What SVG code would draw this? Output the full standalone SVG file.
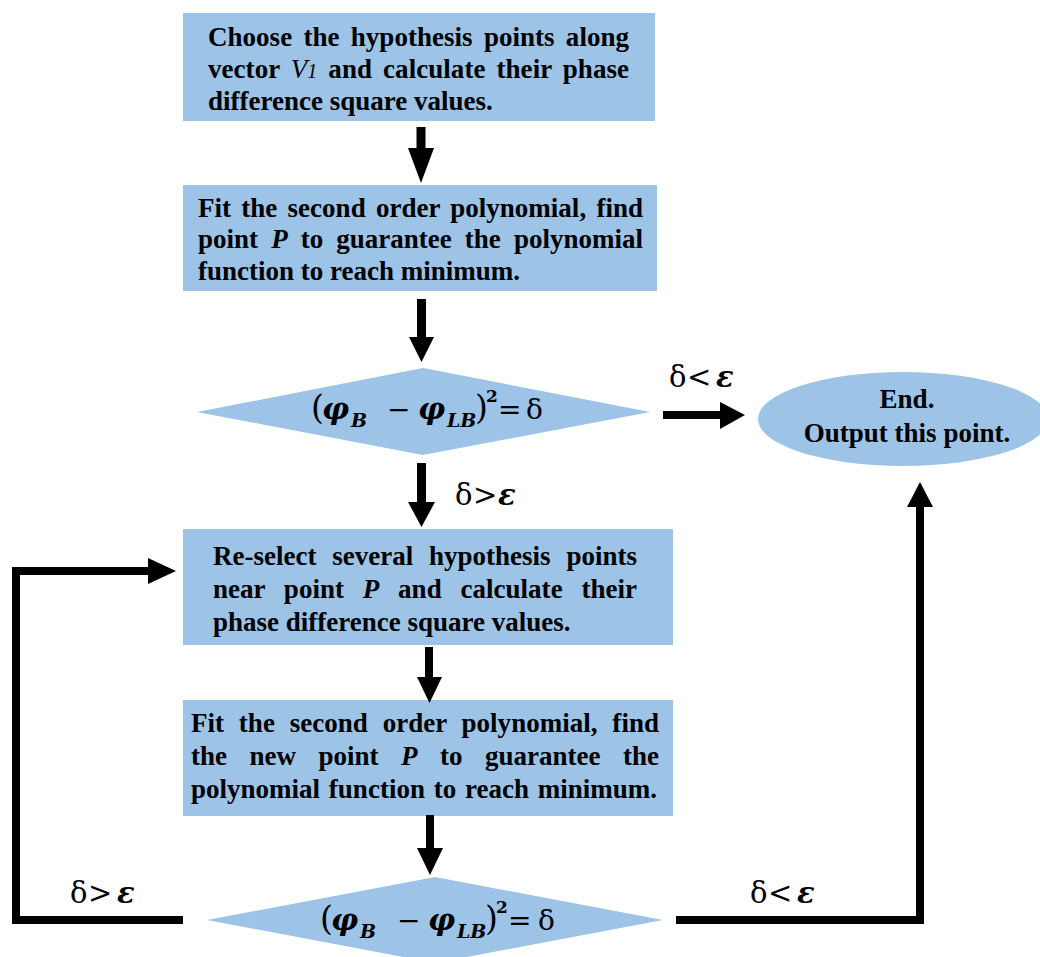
<svg xmlns="http://www.w3.org/2000/svg" width="1040" height="957" viewBox="0 0 1040 957">
<style>
.node{fill:#9DC3E6;}
.t{font-family:"Liberation Serif","Times New Roman",serif;font-weight:bold;font-size:27px;fill:#000;}
.it{font-style:italic;}
.v1{font-style:italic;font-weight:normal;}
.m{font-family:"DejaVu Serif","Liberation Serif",serif;font-size:28px;fill:#000;}
.phi{font-family:"DejaVu Serif",serif;font-weight:bold;font-style:italic;font-size:30px;}
.sub{font-family:"DejaVu Serif",serif;font-weight:bold;font-style:italic;font-size:19px;}
.sup{font-family:"DejaVu Serif",serif;font-weight:bold;font-size:17px;}
.lbl{font-family:"DejaVu Serif","Liberation Serif",serif;font-size:29px;fill:#000;}
.eps{font-weight:bold;font-style:italic;}
.arrow{fill:#000;}
.line{fill:none;stroke:#000;stroke-width:8;stroke-linejoin:miter;}
</style>
<rect width="1040" height="957" fill="#fff"/>

<g id="box1">
<rect class="node" x="183" y="13" width="472" height="108"/>
<text class="t" x="208" y="46" word-spacing="4.5" textLength="421" lengthAdjust="spacing">Choose the hypothesis points along</text>
<text class="t" x="208" y="78" word-spacing="4.2" textLength="421" lengthAdjust="spacing">vector <tspan class="v1">V</tspan><tspan class="v1" font-size="20">1</tspan> and calculate their phase</text>
<text class="t" x="208" y="110">difference square values.</text>
</g>

<g id="box2">
<rect class="node" x="183" y="185" width="474" height="106"/>
<text class="t" x="198" y="217" word-spacing="3.5" textLength="445" lengthAdjust="spacing">Fit the second order polynomial, find</text>
<text class="t" x="198" y="248" word-spacing="6.3" textLength="445" lengthAdjust="spacing">point <tspan class="it">P</tspan> to guarantee the polynomial</text>
<text class="t" x="198" y="280">function to reach minimum.</text>
</g>

<g id="decision1">
<polygon class="node" points="197,412 423,368 650,412 423,455"/>
<text class="m" y="419">
<tspan x="311" font-size="33">(</tspan><tspan class="phi" x="322">φ</tspan><tspan class="sub" x="351" dy="8">B</tspan><tspan x="387" dy="-8">−</tspan><tspan class="phi" x="418">φ</tspan><tspan class="sub" x="447" dy="8">LB</tspan><tspan x="475" dy="-8" font-size="33">)</tspan><tspan class="sup" x="486" dy="-17">2</tspan><tspan x="498" dy="17">=</tspan><tspan x="526">δ</tspan>
</text>
</g>

<g id="end">
<ellipse class="node" cx="903" cy="419" rx="145" ry="47"/>
<text class="t" x="907" y="408" text-anchor="middle">End.</text>
<text class="t" x="907" y="442" text-anchor="middle">Output this point.</text>
</g>

<g id="box3">
<rect class="node" x="183" y="529" width="490" height="116"/>
<text class="t" x="213" y="565" word-spacing="9" textLength="424" lengthAdjust="spacing">Re-select several hypothesis points</text>
<text class="t" x="213" y="598" word-spacing="12" textLength="424" lengthAdjust="spacing">near point <tspan class="it">P</tspan> and calculate their</text>
<text class="t" x="213" y="631">phase difference square values.</text>
</g>

<g id="box4">
<rect class="node" x="183" y="700" width="490" height="116"/>
<text class="t" x="191" y="732" word-spacing="8" textLength="468" lengthAdjust="spacing">Fit the second order polynomial, find</text>
<text class="t" x="191" y="765" word-spacing="15.7" textLength="468" lengthAdjust="spacing">the new point <tspan class="it">P</tspan> to guarantee the</text>
<text class="t" x="191" y="798" word-spacing="2" textLength="466" lengthAdjust="spacing">polynomial function to reach minimum.</text>
</g>

<g id="decision2">
<polygon class="node" points="207,920 435,877 663,920 435,963"/>
<text class="m" y="930">
<tspan x="320" font-size="33">(</tspan><tspan class="phi" x="331">φ</tspan><tspan class="sub" x="360" dy="8">B</tspan><tspan x="397" dy="-8">−</tspan><tspan class="phi" x="428">φ</tspan><tspan class="sub" x="457" dy="8">LB</tspan><tspan x="485" dy="-8" font-size="33">)</tspan><tspan class="sup" x="496" dy="-17">2</tspan><tspan x="508" dy="17">=</tspan><tspan x="538">δ</tspan>
</text>
</g>

<g id="connectors">
<polygon class="arrow" points="416.5,127 425.5,127 425.5,148 434,148 421,183 408,148 416.5,148"/>
<polygon class="arrow" points="417,299 426,299 426,337 434,337 421.5,362 409,337 417,337"/>
<polygon class="arrow" points="417,463 426,463 426,502 435,502 421.5,527 408,502 417,502"/>
<polygon class="arrow" points="425,647 433,647 433,677 442,677 429.5,703 417,677 425,677"/>
<polygon class="arrow" points="426,815 434,815 434,848 443,848 430,875 417,848 426,848"/>
<polygon class="arrow" points="663,411 720,411 720,402 745,415 720,429 720,419 663,419"/>
<polyline class="line" points="183,920 16,920 16,571 150,571"/>
<polygon class="arrow" points="148,558 176,571 148,584"/>
<polyline class="line" points="676,920 920,920 920,505"/>
<polygon class="arrow" points="907,507 920,482 933,507"/>
<text class="lbl" y="387"><tspan x="669">δ</tspan><tspan x="687">&lt;</tspan><tspan class="eps" x="716">ε</tspan></text>
<text class="lbl" y="505"><tspan x="455">δ</tspan><tspan x="473">&gt;</tspan><tspan class="eps" x="498">ε</tspan></text>
<text class="lbl" y="903"><tspan x="70">δ</tspan><tspan x="88">&gt;</tspan><tspan class="eps" x="117">ε</tspan></text>
<text class="lbl" y="903"><tspan x="750">δ</tspan><tspan x="768">&lt;</tspan><tspan class="eps" x="797">ε</tspan></text>
</g>
</svg>
